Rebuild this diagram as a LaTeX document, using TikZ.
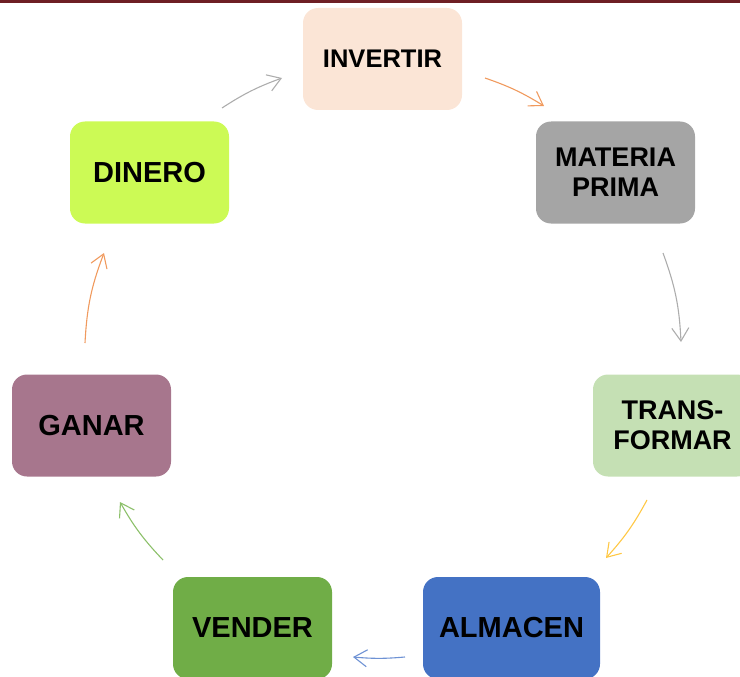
\documentclass[tikz,border=0pt]{standalone}
\usepackage{fontspec}
\setmainfont{Liberation Sans}
\usepackage{tikz}
\usetikzlibrary{arrows.meta}

\definecolor{barra}{HTML}{6E1F24}
\definecolor{cInvertir}{HTML}{FBE5D6}
\definecolor{cMateria}{HTML}{A5A5A5}
\definecolor{cTrans}{HTML}{C5E0B4}
\definecolor{cAlmacen}{HTML}{4472C4}
\definecolor{cVender}{HTML}{70AD47}
\definecolor{cGanar}{HTML}{A7768D}
\definecolor{cDinero}{HTML}{CCFA55}
\definecolor{fGris}{HTML}{ADADAD}
\definecolor{fNaranja}{HTML}{F09A5E}
\definecolor{fOro}{HTML}{FFC845}
\definecolor{fAzul}{HTML}{6E92D4}
\definecolor{fVerde}{HTML}{8CC06A}

\begin{document}
\begin{tikzpicture}[x=1pt,y=-1pt,
    paso/.style={rectangle,rounded corners=15pt,minimum width=159pt,minimum height=102pt,
      align=center,text=black,font=\bfseries\fontsize{29}{31}\selectfont},
    doble/.style={font=\bfseries\fontsize{27}{30}\selectfont},
    flecha/.style={line width=1.1pt,-{Straight Barb[length=13pt,width=17pt]}}]
      \clip (0,0) rectangle (740,677);
      \fill[barra] (0,0) rectangle (740,3);
      % pasos del ciclo
      \node[paso,fill=cInvertir,font=\bfseries\fontsize{25.5}{28}\selectfont] (invertir) at (382.5,59) {INVERTIR};
      \node[paso,doble,fill=cMateria] (materia) at (615.5,172.5) {MATERIA\\PRIMA};
      \node[paso,doble,fill=cTrans] (transformar) at (672.5,425.5) {TRANS-\\FORMAR};
      \node[paso,fill=cAlmacen,minimum width=177pt] (almacen) at (511.5,628) {ALMACEN};
      \node[paso,fill=cVender] (vender) at (252.5,628) {VENDER};
      \node[paso,fill=cGanar] (ganar) at (91.5,425.5) {GANAR};
      \node[paso,fill=cDinero] (dinero) at (149.5,172.5) {DINERO};
      % extremos de las flechas
      \coordinate (dinero-s) at (222,108);
      \coordinate (dinero-e) at (282,78);
      \coordinate (invertir-s) at (485,78);
      \coordinate (invertir-e) at (544,106);
      \coordinate (materia-s) at (663,253);
      \coordinate (materia-e) at (681,342);
      \coordinate (trans-s) at (647,500);
      \coordinate (trans-e) at (606,558);
      \coordinate (almacen-s) at (405,657);
      \coordinate (almacen-e) at (353,657);
      \coordinate (vender-s) at (163,560);
      \coordinate (vender-e) at (120,502);
      \coordinate (ganar-s) at (85,343);
      \coordinate (ganar-e) at (104,253);
      % flechas
      \draw[flecha,fGris] (dinero-s) to[bend left=6.5] (dinero-e);
      \draw[flecha,fNaranja] (invertir-s) to[bend left=6.3] (invertir-e);
      \draw[flecha,fGris] (materia-s) to[bend left=8.7] (materia-e);
      \draw[flecha,fOro] (trans-s) to[bend left=6.8] (trans-e);
      \draw[flecha,fAzul] (almacen-s) to[bend left=5] (almacen-e);
      \draw[flecha,fVerde] (vender-s) to[bend left=7] (vender-e);
      \draw[flecha,fNaranja] (ganar-s) to[bend left=8.9] (ganar-e);
    \end{tikzpicture}
\end{document}
